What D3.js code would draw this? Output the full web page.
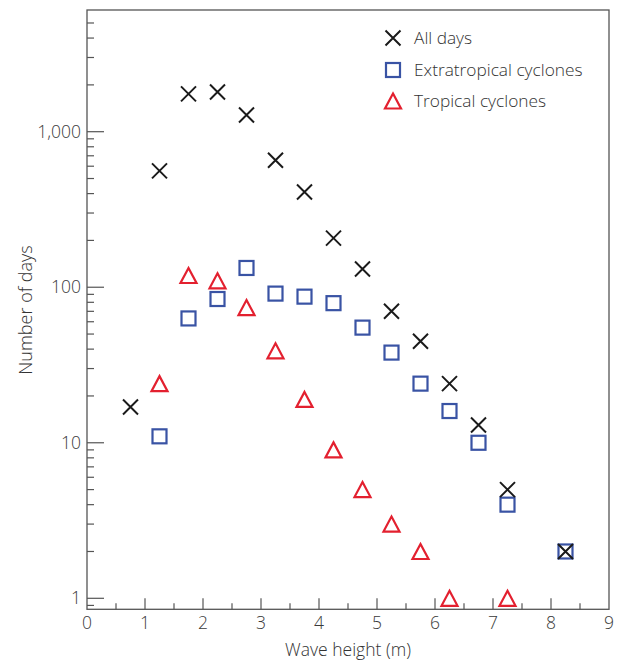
<!DOCTYPE html>
<html><head><meta charset="utf-8">
<script src="https://cdn.jsdelivr.net/npm/d3@7"></script>
<style>
body{margin:0;background:#fff;}
text{font-family:"Open Sans","Noto Sans",sans-serif;font-weight:300;}
</style></head>
<body><svg id="c" width="619" height="662"></svg>
<script>
const waveHeights = [0.75,1.25,1.75,2.25,2.75,3.25,3.75,4.25,4.75,5.25,5.75,6.25,6.75,7.25,7.75,8.25];
const allDays =      [17, 560, 1750, 1800, 1280, 655, 410, 207, 131, 70, 45, 24, 13, 5, null, 2];
const extratropical = [null, 11, 63, 84, 133, 91, 87, 79, 55, 38, 24, 16, 10, 4, null, 2];
const tropical =     [null, 24, 119, 110, 74, 39, 19, 9, 5, 3, 2, 1, null, 1, null, null];
const xTicks = [0,1,2,3,4,5,6,7,8,9];
const yTickLabels = ["1","10","100","1,000"];
const yTickValues = [1,10,100,1000];
const seriesNames = ["All days","Extratropical cyclones","Tropical cyclones"];

const svg = d3.select("#c");
const L=87, R=609, T=10, B=609.3;
const x = d3.scaleLinear().domain([0,9]).range([L,R]);
const y = d3.scaleLog().domain([1,1000]).range([598.3,131.7]);
const axisCol="#555";

// frame
svg.append("rect").attr("x",L).attr("y",T).attr("width",R-L).attr("height",B-T)
  .attr("fill","none").attr("stroke",axisCol).attr("stroke-width",1.3);

// x ticks
const xMinor = d3.range(0.5,9,1);
svg.append("g").selectAll("line").data(xTicks.slice(1,-1)).join("line")
  .attr("x1",d=>x(d)).attr("x2",d=>x(d)).attr("y1",B).attr("y2",B-11)
  .attr("stroke",axisCol).attr("stroke-width",1.2);
svg.append("g").selectAll("line").data(xMinor).join("line")
  .attr("x1",d=>x(d)).attr("x2",d=>x(d)).attr("y1",B).attr("y2",B-6)
  .attr("stroke",axisCol).attr("stroke-width",1.2);
svg.append("g").selectAll("text").data(xTicks).join("text")
  .attr("x",d=>x(d)).attr("y",629).attr("text-anchor","middle")
  .attr("font-size",17.5).attr("fill","#3a3a3a").text(d=>d);

// y ticks
const yMinor=[];
[0.1,1,10,100,1000].forEach(dec=>{for(let k=2;k<=9;k++){const v=dec*k; const py=y(v); if(py>T+3 && py<B-1) yMinor.push(v);}});
svg.append("g").selectAll("line").data(yMinor).join("line")
  .attr("x1",L).attr("x2",L+7).attr("y1",d=>y(d)).attr("y2",d=>y(d))
  .attr("stroke",axisCol).attr("stroke-width",1.2);
svg.append("g").selectAll("line").data(yTickValues).join("line")
  .attr("x1",L).attr("x2",L+17).attr("y1",d=>y(d)).attr("y2",d=>y(d))
  .attr("stroke",axisCol).attr("stroke-width",1.2);
svg.append("g").selectAll("text").data(yTickValues).join("text")
  .attr("x",L-6).attr("y",d=>y(d)+6).attr("text-anchor","end")
  .attr("font-size",17.5).attr("fill","#3a3a3a").text((d,i)=>yTickLabels[i]);

// axis titles
svg.append("text").attr("transform","translate(32,310) rotate(-90)").attr("text-anchor","middle")
  .attr("font-size",18).attr("fill","#333").text("Number of days");
svg.append("text").attr("x",348).attr("y",656).attr("text-anchor","middle")
  .attr("font-size",17.5).attr("fill","#333").text("Wave height (m)");

const black="#1a1a1a", blue="#3953a4", red="#e3202f";
function cross(g,cx,cy){
  const s=7.5;
  g.append("path").attr("d",`M${cx-s},${cy-s}L${cx+s},${cy+s}M${cx-s},${cy+s}L${cx+s},${cy-s}`)
   .attr("stroke",black).attr("stroke-width",2).attr("fill","none");
}
function square(g,cx,cy){
  const s=7;
  g.append("rect").attr("x",cx-s).attr("y",cy-s).attr("width",2*s).attr("height",2*s)
   .attr("stroke",blue).attr("stroke-width",2.2).attr("fill","none");
}
function tri(g,cx,cy){
  const w=8, h=7.5;
  g.append("path").attr("d",`M${cx},${cy-h}L${cx+w},${cy+h}L${cx-w},${cy+h}Z`)
   .attr("stroke",red).attr("stroke-width",2.2).attr("fill","none").attr("stroke-linejoin","miter");
}
const gT=svg.append("g"), gS=svg.append("g"), gX=svg.append("g");
waveHeights.forEach((w,i)=>{
  if(tropical[i]!=null) tri(gT,x(w),y(tropical[i]));
  if(extratropical[i]!=null) square(gS,x(w),y(extratropical[i]));
  if(allDays[i]!=null) cross(gX,x(w),y(allDays[i]));
});

// legend
const lg=svg.append("g");
const ly=[38,70,101];
cross(lg,393,ly[0]); square(lg,393,ly[1]); tri(lg,393,ly[2]);
lg.selectAll("text").data(seriesNames).join("text")
  .attr("x",414).attr("y",(d,i)=>ly[i]+6).attr("font-size",17.3).attr("fill","#333").text(d=>d);
</script></body></html>
